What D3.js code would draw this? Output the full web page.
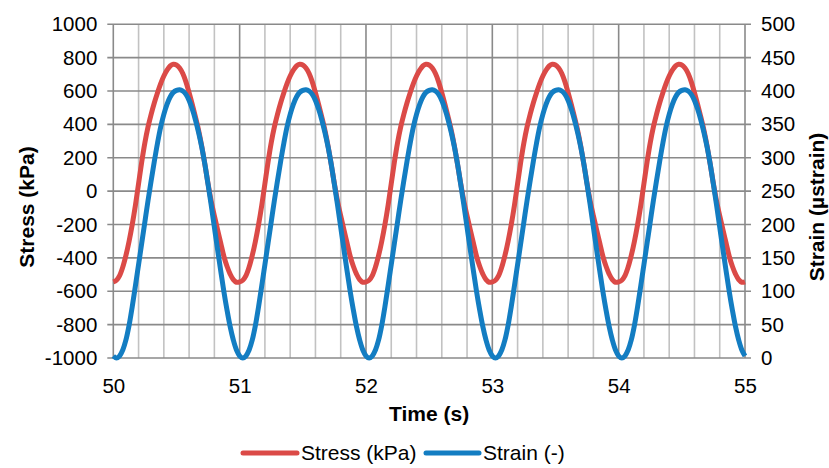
<!DOCTYPE html>
<html><head><meta charset="utf-8">
<script src="https://cdn.jsdelivr.net/npm/d3@7"></script>
<style>
body{margin:0;background:#fff}
svg{display:block;font-family:"Liberation Sans",Arial,sans-serif}
</style>
</head><body>
<svg id="chart" width="829" height="468"></svg>
<script>
// ---- data ----
const time = [
50.000,50.025,50.050,50.075,50.100,50.125,50.150,50.175,50.200,50.225,50.250,50.275,50.300,50.325,50.350,50.375,50.400,50.425,50.450,50.475,
50.500,50.525,50.550,50.575,50.600,50.625,50.650,50.675,50.700,50.725,50.750,50.775,50.800,50.825,50.850,50.875,50.900,50.925,50.950,50.975,
51.000,51.025,51.050,51.075,51.100,51.125,51.150,51.175,51.200,51.225,51.250,51.275,51.300,51.325,51.350,51.375,51.400,51.425,51.450,51.475,
51.500,51.525,51.550,51.575,51.600,51.625,51.650,51.675,51.700,51.725,51.750,51.775,51.800,51.825,51.850,51.875,51.900,51.925,51.950,51.975,
52.000,52.025,52.050,52.075,52.100,52.125,52.150,52.175,52.200,52.225,52.250,52.275,52.300,52.325,52.350,52.375,52.400,52.425,52.450,52.475,
52.500,52.525,52.550,52.575,52.600,52.625,52.650,52.675,52.700,52.725,52.750,52.775,52.800,52.825,52.850,52.875,52.900,52.925,52.950,52.975,
53.000,53.025,53.050,53.075,53.100,53.125,53.150,53.175,53.200,53.225,53.250,53.275,53.300,53.325,53.350,53.375,53.400,53.425,53.450,53.475,
53.500,53.525,53.550,53.575,53.600,53.625,53.650,53.675,53.700,53.725,53.750,53.775,53.800,53.825,53.850,53.875,53.900,53.925,53.950,53.975,
54.000,54.025,54.050,54.075,54.100,54.125,54.150,54.175,54.200,54.225,54.250,54.275,54.300,54.325,54.350,54.375,54.400,54.425,54.450,54.475,
54.500,54.525,54.550,54.575,54.600,54.625,54.650,54.675,54.700,54.725,54.750,54.775,54.800,54.825,54.850,54.875,54.900,54.925,54.950,54.975,
55.000];

const stress = [
-544,-534,-506,-455,-385,-300,-200,-85,45,175,290,385,462,530,590,645,690,725,750,760,
756,738,705,655,590,520,445,365,270,160,45,-60,-148,-230,-310,-390,-450,-497,-530,-546,
-544,-534,-506,-455,-385,-300,-200,-85,45,175,290,385,462,530,590,645,690,725,750,760,
756,738,705,655,590,520,445,365,270,160,45,-60,-148,-230,-310,-390,-450,-497,-530,-546,
-544,-534,-506,-455,-385,-300,-200,-85,45,175,290,385,462,530,590,645,690,725,750,760,
756,738,705,655,590,520,445,365,270,160,45,-60,-148,-230,-310,-390,-450,-497,-530,-546,
-544,-534,-506,-455,-385,-300,-200,-85,45,175,290,385,462,530,590,645,690,725,750,760,
756,738,705,655,590,520,445,365,270,160,45,-60,-148,-230,-310,-390,-450,-497,-530,-546,
-544,-534,-506,-455,-385,-300,-200,-85,45,175,290,385,462,530,590,645,690,725,750,760,
756,738,705,655,590,520,445,365,270,160,45,-60,-148,-230,-310,-390,-450,-497,-530,-546,
-544];

const strain = [
3,0,3,12,27,49,77,108,140,172,204,236,266,295,322,346,365,380,391,398,
401,402,400,395,386,373,357,338,316,290,260,229,196,163,131,100,72,47,27,12,
3,0,3,12,27,49,77,108,140,172,204,236,266,295,322,346,365,380,391,398,
401,402,400,395,386,373,357,338,316,290,260,229,196,163,131,100,72,47,27,12,
3,0,3,12,27,49,77,108,140,172,204,236,266,295,322,346,365,380,391,398,
401,402,400,395,386,373,357,338,316,290,260,229,196,163,131,100,72,47,27,12,
3,0,3,12,27,49,77,108,140,172,204,236,266,295,322,346,365,380,391,398,
401,402,400,395,386,373,357,338,316,290,260,229,196,163,131,100,72,47,27,12,
3,0,3,12,27,49,77,108,140,172,204,236,266,295,322,346,365,380,391,398,
401,402,400,395,386,373,357,338,316,290,260,229,196,163,131,100,72,47,27,12,
3];

const stressTicks = [-1000,-800,-600,-400,-200,0,200,400,600,800,1000];
const strainTicks = [0,50,100,150,200,250,300,350,400,450,500];
const timeTicks = [50,51,52,53,54,55];
const timeMinorTicks = [50.2,50.4,50.6,50.8,51.2,51.4,51.6,51.8,52.2,52.4,52.6,52.8,53.2,53.4,53.6,53.8,54.2,54.4,54.6,54.8];
const seriesNames = ["Stress (kPa)", "Strain (-)"];
const seriesColors = ["#DB4A47", "#137DC2"];

// ---- layout ----
const svg = d3.select("#chart");
const L = 113.3, R = 745, T = 24.3, B = 358;
const x = d3.scaleLinear().domain([50, 55]).range([L, R]);
const yL = d3.scaleLinear().domain([-1000, 1000]).range([B, T]);
const yR = d3.scaleLinear().domain([0, 500]).range([B, T]);
const FS = 20.5, FT = 21;
const fmt = d => String(d);
const titleCY = 207;

// grid
const grid = svg.append("g");
grid.selectAll(".minor").data(timeMinorTicks).join("line")
  .attr("x1", d => x(d)).attr("x2", d => x(d)).attr("y1", T).attr("y2", B)
  .attr("stroke", "#c2c2c2").attr("stroke-width", 1.6);
grid.selectAll(".major").data(timeTicks).join("line")
  .attr("x1", d => x(d)).attr("x2", d => x(d)).attr("y1", T).attr("y2", B)
  .attr("stroke", "#8a8a8a").attr("stroke-width", 1.6);
grid.selectAll(".h").data(stressTicks).join("line")
  .attr("x1", L - 6).attr("x2", R + 6).attr("y1", d => yL(d)).attr("y2", d => yL(d))
  .attr("stroke", "#8a8a8a").attr("stroke-width", 1.6);

// axes (labels)
const axL = svg.append("g").attr("transform", `translate(${L},0)`)
  .call(d3.axisLeft(yL).tickValues(stressTicks).tickSize(0).tickPadding(16).tickFormat(fmt));
const axR = svg.append("g").attr("transform", `translate(${R},0)`)
  .call(d3.axisRight(yR).tickValues(strainTicks).tickSize(0).tickPadding(16).tickFormat(fmt));
const axB = svg.append("g").attr("transform", `translate(0,${B})`)
  .call(d3.axisBottom(x).tickValues(timeTicks).tickSize(0).tickPadding(20).tickFormat(fmt));
[axL, axR, axB].forEach(a => {
  a.select(".domain").remove();
  a.selectAll("text").attr("font-size", FS).attr("fill", "#000")
    .attr("font-family", "'Liberation Sans', Arial, sans-serif");
});

// series
const lineStress = d3.line().x((d, i) => x(time[i])).y(d => yL(d)).curve(d3.curveCatmullRom.alpha(0.5));
const lineStrain = d3.line().x((d, i) => x(time[i])).y(d => yR(d)).curve(d3.curveCatmullRom.alpha(0.5));
svg.append("path").datum(stress).attr("d", lineStress)
  .attr("fill", "none").attr("stroke", seriesColors[0]).attr("stroke-width", 5).attr("stroke-linejoin", "round");
svg.append("path").datum(strain).attr("d", lineStrain)
  .attr("fill", "none").attr("stroke", seriesColors[1]).attr("stroke-width", 5).attr("stroke-linejoin", "round");

// titles
svg.append("text").attr("x", (L + R) / 2).attr("y", 421).attr("text-anchor", "middle")
  .attr("font-size", FT).attr("font-weight", "bold").text("Time (s)");
svg.append("text").attr("transform", `translate(34,${titleCY}) rotate(-90)`).attr("text-anchor", "middle")
  .attr("font-size", FT).attr("font-weight", "bold").text("Stress (kPa)");
svg.append("text").attr("transform", `translate(824,${titleCY}) rotate(-90)`).attr("text-anchor", "middle")
  .attr("font-size", FT).attr("font-weight", "bold").text("Strain (µstrain)");

// legend
const leg = svg.append("g");
const legItems = [{x1: 243, x2: 297, tx: 301}, {x1: 426, x2: 479, tx: 483}];
legItems.forEach((it, i) => {
  leg.append("line").attr("x1", it.x1).attr("x2", it.x2).attr("y1", 453).attr("y2", 453)
    .attr("stroke", seriesColors[i]).attr("stroke-width", 5).attr("stroke-linecap", "round");
  leg.append("text").attr("x", it.tx).attr("y", 460).attr("font-size", FT).text(seriesNames[i]);
});
</script>
</body></html>
